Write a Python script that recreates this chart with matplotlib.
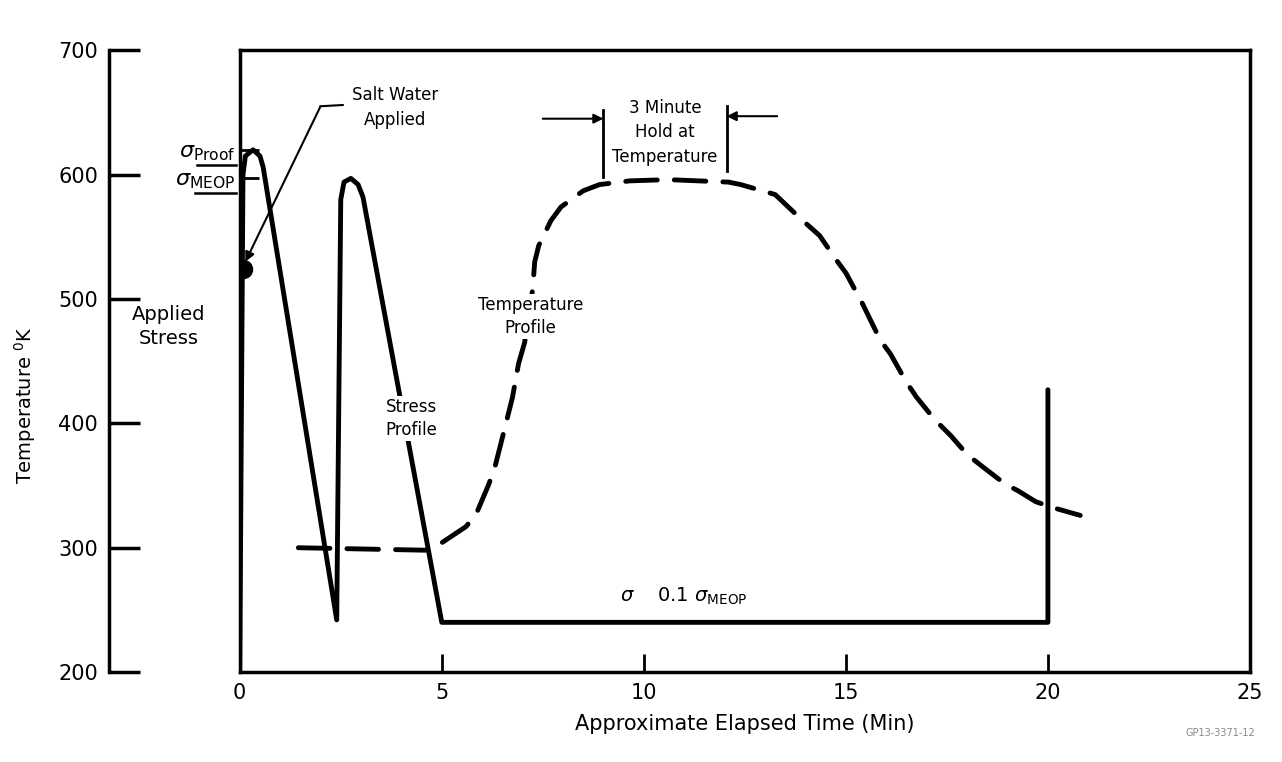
import matplotlib
matplotlib.use("Agg")
import matplotlib.pyplot as plt
from matplotlib.lines import Line2D

# ---------------- data ----------------
temp_time = [1.45, 3.0, 4.6, 5.0, 5.6, 5.85, 6.15, 6.3, 6.55, 6.75, 6.9, 7.05,
             7.25, 7.3, 7.4, 7.7, 7.95, 8.5, 8.9, 9.65, 10.6, 12.1, 12.4, 13.25,
             13.9, 14.35, 14.75, 15.0, 15.4, 15.85, 16.1, 16.5, 16.75, 17.2,
             17.6, 18.0, 18.35, 18.95, 19.25, 19.7, 20.15, 20.8]
temp_kelvin = [300, 299, 298, 304, 317, 327, 350, 363, 395, 421, 448, 465,
               508, 530, 543, 563, 574, 587, 592, 595, 596, 594, 592, 584,
               564, 551, 532, 521, 497, 467, 456, 433, 421, 403,
               390, 375, 366, 351, 346, 337, 332, 326]

stress_time = [0.0, 0.08, 0.14, 0.33, 0.5, 0.58, 2.4, 2.5, 2.58, 2.75, 2.93, 3.05, 5.0, 20.0, 20.0]
stress_level = [200, 600, 615, 620, 615, 606, 242, 580, 594, 597, 592, 582, 240, 240, 427]

salt_time = [0.08]
salt_level = [524]

x_ticks = [0, 5, 10, 15, 20, 25]
y_ticks = [200, 300, 400, 500, 600, 700]
stress_tick_levels = [620, 597]
stress_tick_labels = [r"$\sigma_{\mathrm{Proof}}$", r"$\sigma_{\mathrm{MEOP}}$"]

hold_start = 9.0
hold_end = 12.05

# ---------------- figure ----------------
plt.rcParams["font.family"] = ["DejaVu Sans"]
plt.rcParams["mathtext.fontset"] = "dejavusans"

fig = plt.figure(figsize=(12.82, 7.62), dpi=100)
ax = fig.add_axes([0.187, 0.118, 0.788, 0.816])
ax.set_xlim(0, 25)
ax.set_ylim(200, 700)

# temperature profile (dashed)
ax.plot(temp_time, temp_kelvin, color="black", lw=3.5,
        linestyle=(0, (6.5, 3.5)), dash_capstyle="round", zorder=3)
# stress profile (solid)
ax.plot(stress_time, stress_level, color="black", lw=3.5,
        solid_joinstyle="round", solid_capstyle="round", zorder=4)
# salt water point
ax.plot(salt_time, salt_level, "o", ms=13, color="black", zorder=5)

# ---------------- axes styling ----------------
for s in ax.spines.values():
    s.set_linewidth(2.5)
ax.spines["left"].set_position(("outward", 94))
ax.set_xticks(x_ticks)
ax.set_yticks(y_ticks)
ax.tick_params(axis="x", direction="in", length=13, width=2, labelsize=15, pad=8)
ax.tick_params(axis="y", direction="in", length=22, width=2.5, labelsize=15, pad=8)
ax.set_xlabel("Approximate Elapsed Time (Min)", fontsize=15, labelpad=8)
ax.set_ylabel(r"Temperature $^{0}$K", fontsize=14)
ax.yaxis.set_label_coords(-0.2, 0.43, transform=ax.transAxes)

# applied-stress axis (frame left side)
sec = ax.secondary_yaxis(0.0)
sec.set_yticks(stress_tick_levels, labels=stress_tick_labels)
sec.tick_params(direction="in", length=14, width=2, labelsize=16, pad=3)
sec.spines["left"].set_linewidth(2.5)

# ---------------- annotations ----------------
ax.text(-1.75, 478, "Applied\nStress", ha="center", va="center", fontsize=14,
        linespacing=1.3, clip_on=False)

ax.text(3.85, 654, "Salt Water\nApplied", ha="center", va="center", fontsize=12,
        linespacing=1.5)
ax.plot([2.0, 2.55], [655, 656], color="black", lw=1.5)
ax.annotate("", xy=(0.14, 530), xytext=(2.0, 655),
            arrowprops=dict(arrowstyle="-|>", lw=1.5, color="black",
                            mutation_scale=14, shrinkA=0, shrinkB=0))

ax.text(10.52, 634, "3 Minute\nHold at\nTemperature", ha="center", va="center",
        fontsize=12, linespacing=1.45)
ax.plot([hold_start, hold_start], [598, 652], color="black", lw=2)
ax.plot([hold_end, hold_end], [603, 655], color="black", lw=2)
ax.annotate("", xy=(hold_start, 645), xytext=(7.5, 645),
            arrowprops=dict(arrowstyle="-|>", lw=1.5, color="black",
                            mutation_scale=14, shrinkA=0, shrinkB=0))
ax.annotate("", xy=(hold_end, 647), xytext=(13.3, 647),
            arrowprops=dict(arrowstyle="-|>", lw=1.5, color="black",
                            mutation_scale=14, shrinkA=0, shrinkB=0))

ax.text(7.2, 486, "Temperature\nProfile", ha="center", va="center", fontsize=12,
        linespacing=1.4, zorder=6,
        bbox=dict(facecolor="white", edgecolor="none", pad=1))
ax.text(4.25, 404, "Stress\nProfile", ha="center", va="center", fontsize=12,
        linespacing=1.4, zorder=6,
        bbox=dict(facecolor="white", edgecolor="none", pad=1))

ax.text(11.0, 252, r"$\sigma$    0.1 $\sigma_{\mathrm{MEOP}}$", ha="center",
        va="bottom", fontsize=14)

ax.annotate("GP13-3371-12", xy=(25, 200), xycoords="data", xytext=(4, -44),
            textcoords="offset points", ha="right", va="center", fontsize=7,
            color="#888888", annotation_clip=False)

# underline the stress-axis subscripts
fig.canvas.draw()
inv = fig.transFigure.inverted()
for lab in sec.get_yticklabels():
    bb = lab.get_window_extent()
    (x0, y0), (x1, y1) = inv.transform([[bb.x0 + 0.32 * bb.width, bb.y0 - 2],
                                        [bb.x1, bb.y0 - 2]])
    fig.add_artist(Line2D([x0, x1], [y0, y1], transform=fig.transFigure,
                          color="black", lw=1.8))

fig.savefig("out.png", dpi=100)
